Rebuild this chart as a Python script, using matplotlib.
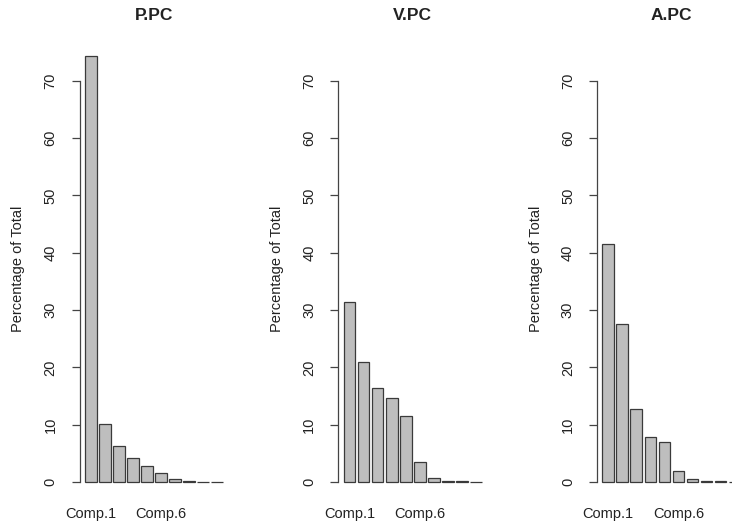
import numpy as np
from matplotlib import pyplot as plt

# Percentage of total variance for each component.
components = ['Comp.%d' % i for i in range(1, 11)]
p_pc = [74.3, 10.1, 6.2, 4.2, 2.8, 1.6, 0.45, 0.15, 0.05, 0.02]
v_pc = [31.4, 20.9, 16.4, 14.7, 11.5, 3.4, 0.7, 0.2, 0.1, 0.05]
a_pc = [41.5, 27.6, 12.8, 7.9, 7.0, 1.9, 0.6, 0.25, 0.1, 0.05]
titles = ['P.PC', 'V.PC', 'A.PC']
shown_labels = [0, 5]          # R drops the labels that would overlap
y_ticks = [0, 10, 20, 30, 40, 50, 60, 70]

plt.rcParams['font.family'] = ['Liberation Sans', 'DejaVu Sans']
text_col = '#222222'

W, H = 732, 525
fig = plt.figure(figsize=(W / 100, H / 100), dpi=100)

# R barplot layout: width 1, space 0.2
x = 0.7 + 1.2 * np.arange(len(components))
ymax = max(p_pc)

for i, (title, values) in enumerate(zip(titles, [p_pc, v_pc, a_pc])):
    left = 79.5 + 258.7 * i
    ax = fig.add_axes([left / W, (H - 499) / H, 149 / W, 460 / H])
    ax.bar(x, values, width=1.0, color='#bebebe', edgecolor='#3a3a3a',
           linewidth=0.9)
    ax.set_xlim(0.2 - 0.472, 12.0 + 0.472)
    ax.set_ylim(-0.04 * ymax, 1.04 * ymax)

    for side in ['top', 'right', 'bottom']:
        ax.spines[side].set_visible(False)
    ax.spines['left'].set_bounds(0, 70)
    ax.spines['left'].set_color('#444444')
    ax.spines['left'].set_linewidth(0.9)

    ax.set_yticks(y_ticks)
    ax.set_yticklabels([str(t) for t in y_ticks], rotation=90, va='center')
    ax.tick_params(axis='y', length=5.8, width=0.9, color='#444444',
                   pad=10, labelsize=10.5, labelcolor=text_col)
    ax.set_xticks([x[j] for j in shown_labels])
    ax.set_xticklabels([components[j] for j in shown_labels])
    ax.tick_params(axis='x', length=0, pad=6, labelsize=10.5,
                   labelcolor=text_col)

    ax.set_ylabel('Percentage of Total', fontsize=10.5, color=text_col,
                  labelpad=13)
    ax.text(0.5, 1.051, title, transform=ax.transAxes, ha='center',
            va='center', fontsize=12.5, fontweight='bold', color=text_col)

plt.savefig('out.png', dpi=100)
